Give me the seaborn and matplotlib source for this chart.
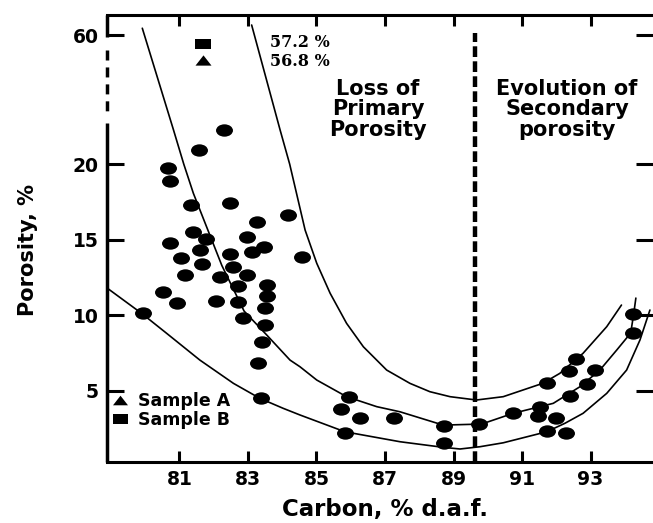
import numpy as np
import matplotlib
matplotlib.use("Agg")
import matplotlib.pyplot as plt
from matplotlib.path import Path
from matplotlib.transforms import Affine2D
from matplotlib.lines import Line2D
import seaborn as sns

# ---------------- data ----------------
carbon = [82.31, 81.58, 80.66, 80.73, 81.34, 82.48, 84.18, 83.26, 81.41, 80.73,
          81.78, 82.98, 81.60, 81.04, 82.48, 83.11, 83.47, 84.59, 81.65, 82.58,
          81.17, 82.19, 82.97, 82.72, 83.55, 80.53, 83.55, 80.93, 82.07, 82.72,
          83.50, 79.93, 82.87, 83.50, 83.40, 83.31, 83.38,
          85.96, 85.71, 86.27, 87.27, 88.72, 85.83, 88.72, 89.74, 90.74, 91.52,
          91.47, 91.99, 91.73, 92.27, 91.72, 92.40, 92.88, 92.37, 93.12, 92.57,
          94.24, 94.24]
porosity = [30.6, 24.4, 19.72, 18.88, 17.30, 17.41, 16.63, 16.15, 15.49, 14.80,
            15.05, 15.20, 14.32, 13.81, 14.05, 14.21, 14.54, 13.88, 13.39, 13.17,
            12.67, 12.55, 12.67, 11.94, 12.00, 11.52, 11.28, 10.79, 10.97, 10.90,
            10.50, 10.17, 9.80, 9.36, 8.25, 6.87, 4.51,
            4.62, 3.80, 3.23, 3.23, 2.68, 2.20, 1.57, 2.81, 3.52, 3.96,
            3.34, 3.23, 2.35, 2.24, 5.54, 4.66, 5.46, 6.34, 6.38, 7.09,
            10.07, 8.81]

sample_a_carbon = [81.69]
sample_a_porosity = [52.2]
sample_b_carbon = [81.69]
sample_b_porosity = [57.1]

curve_low_carbon = [78.89, 79.90, 80.63, 81.60, 82.58, 83.35, 84.03, 84.52, 85.83, 87.44,
                    88.70, 89.19, 89.77, 90.45, 91.72, 92.25, 92.78, 93.47, 94.05, 94.44,
                    94.73]
curve_low_porosity = [11.81, 10.13, 8.81, 7.04, 5.50, 4.51, 3.85, 3.41, 2.30, 1.64,
                      1.27, 1.16, 1.31, 1.57, 2.30, 2.86, 3.52, 4.84, 6.38, 8.37,
                      10.35]

curve_mid_carbon = [79.92, 80.83, 81.13, 81.41, 82.24, 82.89, 83.55, 84.23, 84.52, 85.01,
                    85.88, 86.76, 87.44, 88.70, 89.82, 90.74, 91.52, 91.91, 92.69, 93.27,
                    93.76, 94.17, 94.26, 94.32]
curve_mid_porosity = [62.1, 30.6, 20.0, 18.07, 13.3, 10.28, 8.70, 7.04, 6.60, 5.72,
                      4.62, 3.96, 3.62, 2.74, 2.81, 3.52, 3.96, 4.18, 5.28, 6.38,
                      7.70, 8.83, 10.15, 11.14]

curve_up_carbon = [83.11, 83.94, 84.22, 84.67, 85.01, 85.40, 85.88, 86.37, 87.05, 87.73,
                   88.31, 88.90, 89.67, 90.45, 91.60, 92.10, 92.78, 93.47, 93.90]
curve_up_porosity = [63.1, 30.6, 20.0, 15.64, 13.44, 11.46, 9.47, 7.92, 6.38, 5.50,
                     4.95, 4.62, 4.40, 4.62, 5.50, 6.16, 7.49, 9.25, 10.68]

boundary_carbon = 89.64
x_ticks = [81, 83, 85, 87, 89, 91, 93]
y_ticks = [5, 10, 15, 20, 60]
y_tick_labels = ["5", "10", "15", "20", "60"]
value_labels = ["57.2 %", "56.8 %"]

# ---------------- style ----------------
sns.set_style("ticks")
plt.rcParams['font.family'] = ['DejaVu Sans']
plt.rcParams['lines.scale_dashes'] = False
for key in ['text.color', 'axes.labelcolor', 'xtick.color', 'ytick.color',
            'xtick.labelcolor', 'ytick.labelcolor', 'axes.edgecolor']:
    plt.rcParams[key] = 'black'

BREAK = 20.0
K = 0.2135


def fwd(y):
    y = np.asarray(y, dtype=float)
    return np.where(y <= BREAK, y, BREAK + (y - BREAK) * K)


def inv(f):
    f = np.asarray(f, dtype=float)
    return np.where(f <= BREAK, f, BREAK + (f - BREAK) / K)


ellipse = Path.unit_circle().transformed(Affine2D().scale(1.0, 0.73))
rect = Path([(-0.5, -0.32), (0.5, -0.32), (0.5, 0.32), (-0.5, 0.32), (-0.5, -0.32)],
            [Path.MOVETO, Path.LINETO, Path.LINETO, Path.LINETO, Path.CLOSEPOLY])
tri = Path([(-0.5, -0.32), (0.5, -0.32), (0.0, 0.32), (-0.5, -0.32)],
           [Path.MOVETO, Path.LINETO, Path.LINETO, Path.CLOSEPOLY])

fig = plt.figure(figsize=(6.53, 5.23), dpi=100)
ax = fig.add_axes([107 / 653, 1 - 462 / 523, 546 / 653, 447 / 523])
ax.set_yscale('function', functions=(fwd, inv))

# curves
for cx, cy in [(curve_low_carbon, curve_low_porosity),
               (curve_mid_carbon, curve_mid_porosity),
               (curve_up_carbon, curve_up_porosity)]:
    sns.lineplot(x=cx, y=cy, sort=False, estimator=None, color='black', lw=1.2, ax=ax)

# points
sns.scatterplot(x=carbon, y=porosity, marker=ellipse, s=149, color='black',
                linewidth=0, ax=ax, zorder=3)
sns.scatterplot(x=sample_b_carbon, y=sample_b_porosity, marker=rect, s=133,
                color='black', linewidth=0, ax=ax, zorder=3)
sns.scatterplot(x=sample_a_carbon, y=sample_a_porosity, marker=tri, s=133,
                color='black', linewidth=0, ax=ax, zorder=3)

# boundary dashed line
ax.plot([boundary_carbon, boundary_carbon], [0.3, 60.5], color='black', lw=3.2,
        ls=(0, (7.7, 3.1)), zorder=2)

ax.set_xlim(78.89, 94.82)
ax.set_ylim(0.30, 66.2)
ax.set_xticks(x_ticks)
ax.set_xticklabels([str(t) for t in x_ticks])
ax.set_yticks(y_ticks)
ax.set_yticklabels(y_tick_labels)
ax.minorticks_off()

ax.tick_params(axis='both', direction='in', width=2.2, labelsize=13.5, color='black',
               labelcolor='black')
ax.tick_params(axis='x', top=True, length=8, pad=6)
ax.tick_params(axis='y', right=True, length=12, pad=6)
for lab in ax.get_xticklabels() + ax.get_yticklabels():
    lab.set_fontweight('bold')

for s in ['top', 'bottom']:
    ax.spines[s].set_linewidth(2.2)
    ax.spines[s].set_color('black')
ax.spines['left'].set_visible(False)
ax.spines['right'].set_visible(False)

# broken left axis
ax.plot([0, 0], [1.0, 0.9508], transform=ax.transAxes, color='black', lw=2.5,
        clip_on=False, solid_capstyle='butt')
ax.plot([0, 0], [0.9217, 0.7808], transform=ax.transAxes, color='black', lw=2.5,
        clip_on=False, ls=(0, (7.2, 5.0)))
ax.plot([0, 0], [0.7584, 0.0], transform=ax.transAxes, color='black', lw=2.5,
        clip_on=False, solid_capstyle='butt')

# axis labels
ax.set_xlabel('Carbon, % d.a.f.', fontsize=16.5, fontweight='bold', color='black')
ax.xaxis.set_label_coords(0.509, -0.106)
ax.xaxis.label.set_va('center')
ax.set_ylabel('Porosity, %', fontsize=15, fontweight='bold', color='black')
ax.yaxis.set_label_coords(-0.1447, 0.474)
ax.yaxis.label.set_va('center')

# annotations
ax.text(0.2985, 0.9374, value_labels[0], transform=ax.transAxes, ha='left', va='center',
        fontsize=11.5, fontweight='bold', family=['DejaVu Serif'], color='black')
ax.text(0.2985, 0.8949, value_labels[1], transform=ax.transAxes, ha='left', va='center',
        fontsize=11.5, fontweight='bold', family=['DejaVu Serif'], color='black')
ax.text(0.4963, 0.7886, "Loss of\nPrimary\nPorosity", transform=ax.transAxes,
        ha='center', va='center', fontsize=15, fontweight='bold', linespacing=1.05,
        color='black')
ax.text(0.8425, 0.7886, "Evolution of\nSecondary\nporosity", transform=ax.transAxes,
        ha='center', va='center', fontsize=15, fontweight='bold', linespacing=1.05,
        color='black')

# legend
handles = [Line2D([], [], marker=tri, ls='none', color='black', markersize=10.8, markeredgewidth=0),
           Line2D([], [], marker=rect, ls='none', color='black', markersize=10.8, markeredgewidth=0)]
leg = ax.legend(handles, ['Sample A', 'Sample B'], loc='upper left',
                bbox_to_anchor=(0.0073, 0.1566), frameon=False, borderpad=0, borderaxespad=0,
                handlelength=1.0, handletextpad=0.55, labelspacing=0.05,
                prop={'weight': 'bold', 'size': 12.5})
for t in leg.get_texts():
    t.set_color('black')

fig.savefig('out.png', dpi=100)
